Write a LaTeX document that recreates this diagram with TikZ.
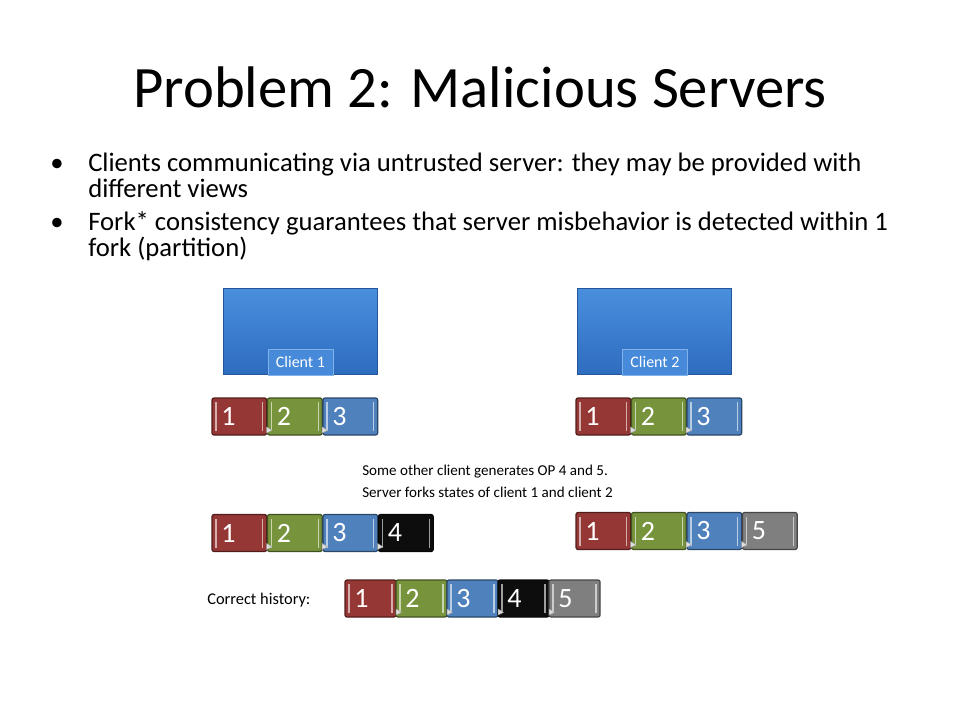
\documentclass[tikz,border=0pt]{standalone}
\usepackage{fontspec}
\setmainfont{Carlito}
\usetikzlibrary{positioning}
\definecolor{opred}{HTML}{953735}
\definecolor{opgreen}{HTML}{77933C}
\definecolor{opblue}{HTML}{4F81BD}
\definecolor{opblack}{HTML}{0D0D0D}
\definecolor{opgray}{HTML}{7F7F7F}
\definecolor{clienttop}{HTML}{4A8FDE}
\definecolor{clientbot}{HTML}{2E6CC0}
\tikzset{
  opblock/.style={draw=#1!55!black, fill=#1, rounded corners=1.5pt, line width=0.9pt,
    minimum height=27.75pt, text width=27pt, inner xsep=7pt, inner ysep=0pt, outer sep=0pt,
    align=left, text=white, anchor=west, font=\fontsize{21}{21}\selectfont,
    path picture={
      \draw[#1!40!white, line width=1pt]
        ([xshift=3pt,yshift=3pt]path picture bounding box.south west) -- ([xshift=3pt,yshift=-3pt]path picture bounding box.north west)
        ([xshift=-3pt,yshift=3pt]path picture bounding box.south east) -- ([xshift=-3pt,yshift=-3pt]path picture bounding box.north east);
    }},
  narrowblock/.style={text width=24.3pt},
  clientbox/.style={draw=clientbot!80!black, line width=0.6pt, top color=clienttop, bottom color=clientbot,
    minimum width=116pt, minimum height=65pt, inner sep=0pt, outer sep=0pt},
  clientlabel/.style={fill=clienttop!85!clientbot, draw=clienttop!70!white, line width=0.3pt, text=white,
    minimum width=48.5pt, minimum height=19.5pt, inner sep=0pt, font=\fontsize{12}{12}\selectfont},
  joint/.style={fill=gray!25, draw=gray!70, line width=0.3pt},
  bullettext/.style={anchor=base west, font=\fontsize{20}{20}\selectfont, inner sep=0pt}
}
\begin{document}
\begin{tikzpicture}[x=0.75pt, y=-0.75pt]
\useasboundingbox (0,0) rectangle (960,720);
% title and bullets
\node[anchor=base, font=\fontsize{44}{44}\selectfont] (title) at (480,108) {Problem 2: Malicious Servers};
\node[bullettext] (b1) at (88,172) {Clients communicating via untrusted server: they may be provided with};
\node[bullettext] (b1b) at (88,198) {different views};
\node[bullettext] (b2) at (88,231) {Fork* consistency guarantees that server misbehavior is detected within 1};
\node[bullettext] (b2b) at (88,257) {fork (partition)};
\node[anchor=base, font=\fontsize{20}{20}\selectfont, inner sep=0pt] (dot1) at (57,172) {•};
\node[anchor=base, font=\fontsize{20}{20}\selectfont, inner sep=0pt] (dot2) at (57,231) {•};
% clients
\node[clientbox] (client1) at (300.5,331.5) {};
\node[clientlabel] (lab1) at (300.5,362) {Client 1};
\node[clientbox] (client2) at (654.5,331.5) {};
\node[clientlabel] (lab2) at (655,362) {Client 2};
% first states
\foreach \n/\c [count=\i] in {1/opred,2/opgreen,3/opblue}
  \node[opblock=\c] (la\i) at (212+55.5*\i-55.5,416.5) {\n};
\foreach \n/\c [count=\i] in {1/opred,2/opgreen,3/opblue}
  \node[opblock=\c] (ra\i) at (576+55.5*\i-55.5,416.5) {\n};
% middle note
\node[anchor=base west, align=left, inner sep=0pt, font=\fontsize{11.3}{16.5}\selectfont] (note) at (362,497) {Some other client generates OP 4 and 5.\\Server forks states of client 1 and client 2};
% forked states
\foreach \n/\c [count=\i] in {1/opred,2/opgreen,3/opblue,4/opblack}
  \node[opblock=\c] (lb\i) at (212+55.5*\i-55.5,533) {\n};
\foreach \n/\c [count=\i] in {1/opred,2/opgreen,3/opblue,5/opgray}
  \node[opblock=\c] (rb\i) at (576+55.5*\i-55.5,531) {\n};
% correct history
\node[anchor=base west, inner sep=0pt, font=\fontsize{12.3}{12.3}\selectfont] (corr) at (207,604) {Correct history:};
\foreach \n/\c [count=\i] in {1/opred,2/opgreen,3/opblue,4/opblack,5/opgray}
  \node[opblock=\c, narrowblock] (h\i) at (345+51*\i-51,598.5) {\n};
% small joints between blocks
\foreach \b in {la1,la2,ra1,ra2,lb1,lb2,lb3,rb1,rb2,rb3,h1,h2,h3,h4}
  \filldraw[joint] ([yshift=6pt]\b.south east) -- ([xshift=4pt,yshift=3.5pt]\b.south east) -- ([yshift=1.5pt]\b.south east) -- cycle;
\end{tikzpicture}
\end{document}
